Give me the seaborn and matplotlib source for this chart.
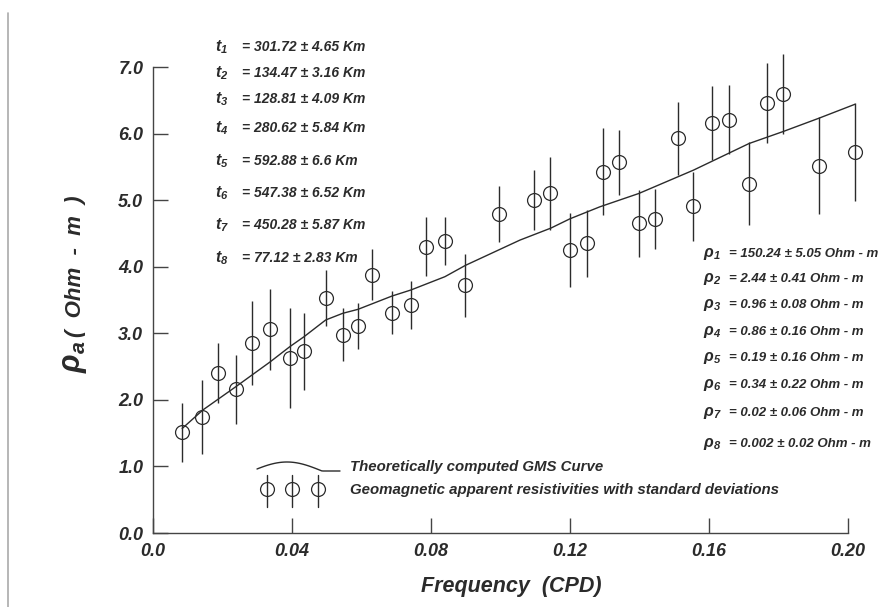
import matplotlib
matplotlib.use("Agg")
import numpy as np
import pandas as pd
import matplotlib.pyplot as plt
import seaborn as sns
from matplotlib.lines import Line2D

# observed apparent resistivities
freq = [0.0084, 0.0142, 0.0188, 0.0239, 0.0286, 0.0337, 0.0393, 0.0435, 0.0497,
        0.0546, 0.0590, 0.0631, 0.0688, 0.0742, 0.0785, 0.0840, 0.0899, 0.0995,
        0.1096, 0.1143, 0.1200, 0.1250, 0.1294, 0.1341, 0.1398, 0.1446, 0.1510,
        0.1555, 0.1608, 0.1658, 0.1715, 0.1767, 0.1813, 0.1916, 0.2020]
rho_a = [1.51, 1.74, 2.41, 2.16, 2.86, 3.06, 2.63, 2.73, 3.53,
         2.98, 3.11, 3.88, 3.31, 3.42, 4.30, 4.39, 3.72, 4.79,
         5.00, 5.10, 4.25, 4.35, 5.43, 5.57, 4.65, 4.72, 5.93,
         4.91, 6.16, 6.21, 5.25, 6.46, 6.59, 5.52, 5.72]
rho_err = [0.45, 0.56, 0.45, 0.52, 0.63, 0.61, 0.75, 0.58, 0.42,
           0.40, 0.35, 0.38, 0.32, 0.36, 0.44, 0.36, 0.47, 0.42,
           0.45, 0.55, 0.55, 0.50, 0.66, 0.49, 0.50, 0.45, 0.55,
           0.52, 0.56, 0.52, 0.62, 0.60, 0.60, 0.73, 0.74]

# theoretical GMS curve
curve_freq = [0.0084, 0.0144, 0.0239, 0.0337, 0.0394, 0.0435, 0.0497, 0.0546,
              0.0590, 0.0688, 0.0742, 0.0840, 0.0899, 0.1056, 0.1145, 0.1200,
              0.1286, 0.1398, 0.1555, 0.1715, 0.1813, 0.1916, 0.2020]
curve_rho = [1.57, 1.85, 2.20, 2.57, 2.80, 2.95, 3.20, 3.30,
             3.36, 3.56, 3.65, 3.85, 4.02, 4.40, 4.58, 4.72,
             4.90, 5.10, 5.45, 5.85, 6.03, 6.23, 6.44]

x_ticks = [0.0, 0.04, 0.08, 0.12, 0.16, 0.20]
x_ticklabels = ["0.0", "0.04", "0.08", "0.12", "0.16", "0.20"]
y_ticks = [0, 1, 2, 3, 4, 5, 6, 7]
y_ticklabels = ["0.0", "1.0", "2.0", "3.0", "4.0", "5.0", "6.0", "7.0"]

thickness = ["301.72 ± 4.65", "134.47 ± 3.16", "128.81 ± 4.09", "280.62 ± 5.84",
             "592.88 ± 6.6", "547.38 ± 6.52", "450.28 ± 5.87", "77.12 ± 2.83"]
resistivity = ["150.24 ± 5.05", "2.44 ± 0.41", "0.96 ± 0.08", "0.86 ± 0.16",
               "0.19 ± 0.16", "0.34 ± 0.22", "0.02 ± 0.06", "0.002 ± 0.02"]

sns.set_theme(style="ticks")
plt.rcParams["font.family"] = ["Liberation Sans", "DejaVu Sans"]
plt.rcParams["font.weight"] = "bold"
plt.rcParams["font.style"] = "italic"
plt.rcParams["axes.labelweight"] = "bold"
plt.rcParams["mathtext.fontset"] = "custom"
plt.rcParams["mathtext.rm"] = "Liberation Sans:italic:bold"
plt.rcParams["mathtext.it"] = "Liberation Sans:italic:bold"
plt.rcParams["mathtext.bf"] = "Liberation Sans:italic:bold"

ink = "#2b2b2b"
W, H = 881, 607
fig = plt.figure(figsize=(W / 100, H / 100), dpi=100)
ax = fig.add_axes([153 / W, 74 / H, 695 / W, 466 / H])

df = pd.DataFrame({"freq": freq, "rho": rho_a, "err": rho_err})
curve = pd.DataFrame({"freq": curve_freq, "rho": curve_rho})

sns.lineplot(data=curve, x="freq", y="rho", ax=ax, color=ink, lw=1.0,
             estimator=None, sort=False)
ax.lines[-1].set_clip_on(False)

eb = ax.errorbar(df["freq"], df["rho"], yerr=df["err"], fmt="o", ms=10,
                 mfc="none", mec=ink, mew=0.9, ecolor=ink, elinewidth=1.0,
                 capsize=0, zorder=3)
eb.lines[0].set_clip_on(False)
for art in eb.lines[2]:
    art.set_clip_on(False)

ax.set_xlim(0, 0.20)
ax.set_ylim(0, 7.0)
ax.set_xticks(x_ticks)
ax.set_xticklabels(x_ticklabels)
ax.set_yticks(y_ticks)
ax.set_yticklabels(y_ticklabels)
ax.tick_params(direction="in", length=11, width=1, color="#444",
               labelcolor=ink, labelsize=13, pad=7)
sns.despine(ax=ax)
for s in ("left", "bottom"):
    ax.spines[s].set_color("#444")
    ax.spines[s].set_linewidth(1.0)
ax.set_xlabel("Frequency  (CPD)", fontsize=15.5, color=ink)
ax.xaxis.set_label_coords((511 - 153) / 695, (533 - 576) / 466)
ax.set_ylabel("")


def px(x, y):
    return x / W, 1 - y / H


# y label
fig.text(*px(74, 357), r"$\rho_a$", rotation=90, fontsize=22, color=ink,
         ha="center", va="center")
fig.text(*px(75, 266), "(  Ohm  -  m  )", rotation=90, fontsize=16, color=ink,
         ha="center", va="center")

# layer thickness block
t_rows = [47, 73, 99, 128, 161, 193, 225, 258]
for i, (yy, val) in enumerate(zip(t_rows, thickness)):
    fig.text(*px(215, yy), rf"$t_{{{i + 1}}}$", fontsize=11.5, color=ink, va="center")
    fig.text(*px(242, yy), f"= {val} Km", fontsize=10, color=ink, va="center")

# layer resistivity block
r_rows = [254, 279, 305, 332, 358, 385, 413, 444]
for i, (yy, val) in enumerate(zip(r_rows, resistivity)):
    fig.text(*px(703, yy), rf"$\rho_{{{i + 1}}}$", fontsize=11.5, color=ink, va="center")
    fig.text(*px(729, yy), f"= {val} Ohm - m", fontsize=9.5, color=ink, va="center")

# legend
def axf(x, y):
    return (x - 153) / 695, (533 - y) / 466


wx = np.linspace(257, 340, 60)
wy = np.where(wx < 322, 471 - 9 * np.sin(np.pi * (wx - 252) / 70), 471)
lx, ly = zip(*[axf(a, b) for a, b in zip(wx, wy)])
ax.plot(lx, ly, color=ink, lw=1.0, transform=ax.transAxes, clip_on=False)
for cx in (267, 292, 318):
    x0, y0 = axf(cx, 489)
    _, y1 = axf(cx, 475)
    _, y2 = axf(cx, 507)
    ax.plot([x0, x0], [y1, y2], color=ink, lw=1.0, transform=ax.transAxes, clip_on=False)
    ax.plot([x0], [y0], "o", ms=10, mfc="none", mec=ink, mew=0.9,
            transform=ax.transAxes, clip_on=False)
ax.text(*axf(350, 467), "Theoretically computed GMS Curve", fontsize=10.8,
        color=ink, va="center", transform=ax.transAxes)
ax.text(*axf(350, 490), "Geomagnetic apparent resistivities with standard deviations",
        fontsize=10.8, color=ink, va="center", transform=ax.transAxes)

# scan border at the left edge
fig.add_artist(Line2D([8 / W, 8 / W], [0, 1 - 13 / H], color="#aaaaaa", lw=1.2,
                      transform=fig.transFigure))

fig.savefig("out.png", dpi=100)
